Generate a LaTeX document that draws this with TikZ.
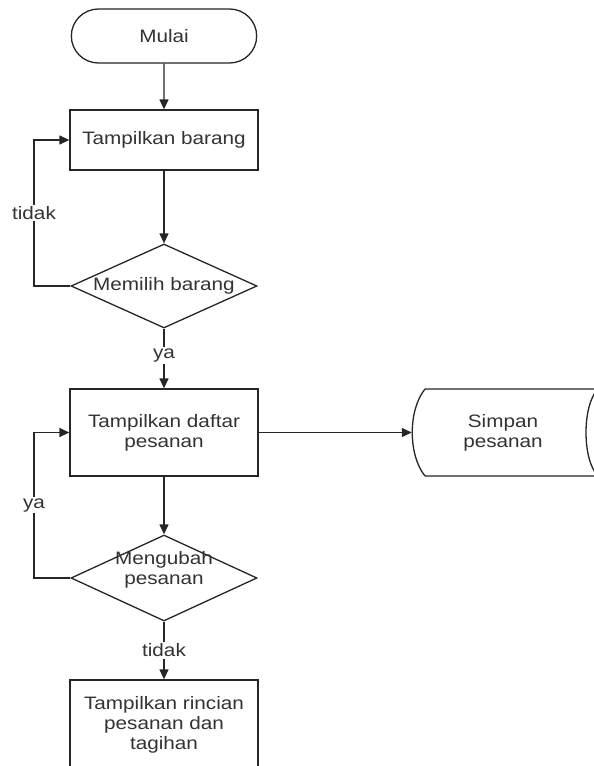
\documentclass[tikz,border=0pt]{standalone}
\usepackage{fontspec}
\setmainfont[FakeStretch=1.15]{Liberation Sans}
\usetikzlibrary{arrows.meta,shapes.geometric,shapes.misc}

\begin{document}
\begin{tikzpicture}[x=1pt,y=-1pt,
  every node/.style={font=\fontsize{18}{20}\selectfont, text=black!80, align=center},
  line/.style={draw=black!85, line width=1.3pt},
  flow/.style={line, -{Triangle[length=10pt,width=9pt]}},
  procbox/.style={line, rectangle, minimum width=188pt, inner sep=0pt},
  decision/.style={line, diamond, minimum width=186pt, inner sep=0pt},
  terminal/.style={line, rounded rectangle, minimum width=192pt, minimum height=54pt},
  lbl/.style={fill=white, inner sep=1.5pt}
]
\clip (0,0) rectangle (594,766);
\fill[white] (0,0) rectangle (594,766);

% nodes
\node[terminal] (mulai) at (164,36) {Mulai};
\node[procbox, minimum height=60pt] (b1) at (164,140) {Tampilkan barang};
\node[decision, minimum height=84pt] (d1) at (164,286) {};
\node (t1) at (d1) {Memilih barang};
\node[procbox, minimum height=87pt] (b2) at (164,432.5) {Tampilkan daftar\\pesanan};
\node[decision, minimum height=86pt] (d2) at (164,578) {};
\node (t2) at (164,570) {Mengubah\\pesanan};
\node[procbox, minimum height=90pt] (b3) at (164,725) {Tampilkan rincian\\pesanan dan\\tagihan};
\node[minimum width=182pt, minimum height=87pt, inner sep=0pt] (simpan) at (503,432.5) {Simpan\\pesanan};

% stored data outline
\draw[line] (425,389) -- (610,389) (425,476) -- (610,476)
  (425,389) .. controls (408,410) and (408,455) .. (425,476)
  (598,389) .. controls (582,405) and (582,460) .. (598,476);

% loop guide
\coordinate (lx) at (34,0);

% connectors
\draw[flow] (mulai) -- (b1);
\draw[flow] (b1) -- (d1.north);
\draw[flow] (d1.south) -- node[lbl, pos=0.45] {ya} (b2.north);
\draw[flow] (d1.west) -- (d1.west -| lx) -- node[lbl] {tidak} (b1.west -| lx) -- (b1.west);
\draw[flow] (b2) -- (d2.north);
\draw[flow] (d2.west) -- (d2.west -| lx) -- node[lbl] {ya} (b2.west -| lx) -- (b2.west);
\draw[flow] (d2.south) -- node[lbl] {tidak} (b3.north);
\draw[flow] (b2.east) -- (simpan.west);
\end{tikzpicture}
\end{document}
